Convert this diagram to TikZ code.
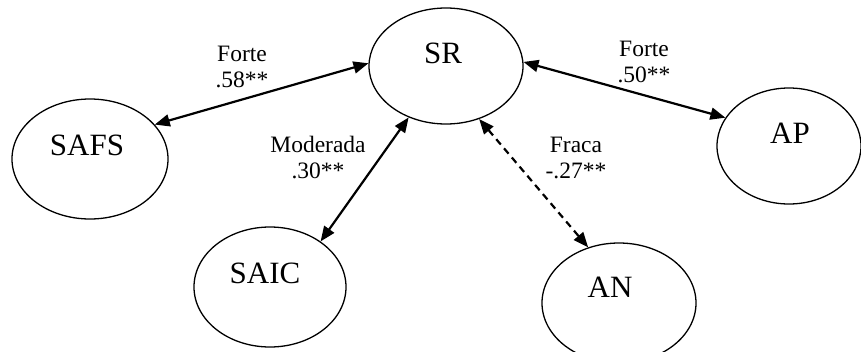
\documentclass[tikz,border=0pt]{standalone}
\usepackage{fontspec}
\setmainfont{Liberation Serif}
\usetikzlibrary{shapes.geometric,arrows.meta}
\begin{document}
\begin{tikzpicture}[x=1pt,y=-1pt,
  construct/.style={ellipse,draw,line width=1.3pt,inner sep=0pt},
  constructname/.style={anchor=base,font=\fontsize{31}{34}\selectfont,inner sep=0pt},
  coef/.style={align=center,anchor=base,font=\fontsize{23.5}{26}\selectfont,inner sep=0pt},
  assoc/.style={{Triangle[length=15pt,width=12pt]}-{Triangle[length=15pt,width=12pt]},line width=2.2pt},
  weak/.style={assoc,dash pattern=on 7pt off 5pt}]
\useasboundingbox (0,0) rectangle (861,351);

% constructs
\node[construct,minimum width=154pt,minimum height=116pt] (sr)   at (446,66)  {};
\node[construct,minimum width=156pt,minimum height=120pt] (safs) at (90,159)  {};
\node[construct,minimum width=144pt,minimum height=116pt] (ap)   at (789,146) {};
\node[construct,minimum width=152pt,minimum height=120pt] (saic) at (270,287) {};
\node[construct,minimum width=154pt,minimum height=120pt] (an)   at (619,303) {};

\node[constructname] (srt)   at (443,63)  {SR};
\node[constructname] (safst) at (87,155)  {SAFS};
\node[constructname] (apt)   at (790,143) {AP};
\node[constructname] (saict) at (265,283) {SAIC};
\node[constructname] (ant)   at (610,297) {AN};

% correlations
\draw[assoc] (safs.28)  -- (sr.178);
\draw[assoc] (sr.3)     -- (ap.156);
\draw[assoc] (sr.234)   -- (saic.42);
\draw[weak]  (sr.302)   -- (an.119);

% coefficient labels (anchored at the baseline of the second line)
\node[coef] (l1) at (242,87)  {Forte\\.58**};
\node[coef] (l2) at (644,82)  {Forte\\.50**};
\node[coef] (l3) at (318,178) {Moderada\\.30**};
\node[coef] (l4) at (576,178) {Fraca\\-.27**};
\end{tikzpicture}
\end{document}
